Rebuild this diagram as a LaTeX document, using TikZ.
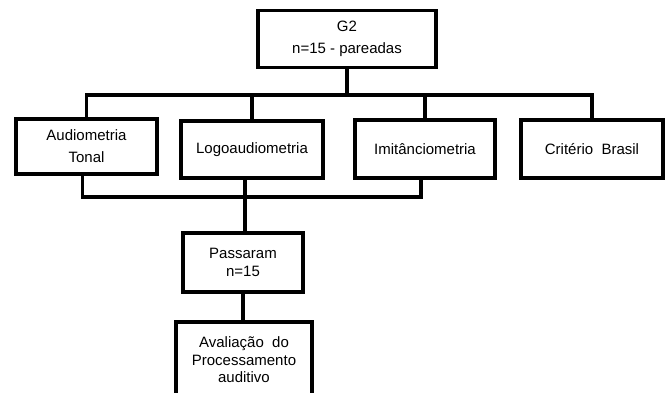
\documentclass[tikz,border=0pt]{standalone}
\usepackage{fontspec}
\setmainfont{Liberation Sans}
\begin{document}
\begin{tikzpicture}[x=1pt, y=-1pt, line width=3.6pt,
		every node/.style = {shape=rectangle, draw, align=center, inner sep=0pt, font=\fontsize{15}{22}\selectfont},
		tight/.style = {font=\fontsize{15}{17.5}\selectfont}]
	\useasboundingbox (0,0) rectangle (670,393);
	\clip (0,0) rectangle (670,393);
	\node[minimum width=178pt, minimum height=57pt] (g2) at (347,39) {G2\\n=15 - pareadas};
	\node[minimum width=141pt, minimum height=55pt] (audio) at (86.5,146.5) {Audiometria\\Tonal};
	\node[minimum width=142pt, minimum height=57pt] (logo) at (252,149.5) {Logoaudiometria};
	\node[minimum width=140pt, minimum height=58pt] (imit) at (425,149) {Imitânciometria};
	\node[minimum width=142pt, minimum height=58pt] (crit) at (592,149) {Critério\ \ Brasil};
	\node[tight, minimum width=120pt, minimum height=59pt] (pass) at (243,262.5) {Passaram\\n=15};
	\node[tight, minimum width=136pt, minimum height=76pt] (aval) at (244,360) {Avaliação\ \ do\\Processamento\\auditivo};
	\coordinate (top bus) at (0,95);
	\coordinate (low bus) at (0,197);
	\draw (g2.south) -- (g2.south |- top bus);
	\draw (audio.north) |- (crit.north |- top bus) -- (crit.north);
	\draw (logo.north) -- (logo.north |- top bus);
	\draw (imit.north) -- (imit.north |- top bus);
	\draw ([xshift=-4pt]audio.south) |- ([xshift=-4pt]imit.south |- low bus) -- ([xshift=-4pt]imit.south);
	\draw ([xshift=-7pt]logo.south) -- ([xshift=2pt]pass.north);
	\draw (pass.south) -- (pass.south |- aval.north);
\end{tikzpicture}
\end{document}
